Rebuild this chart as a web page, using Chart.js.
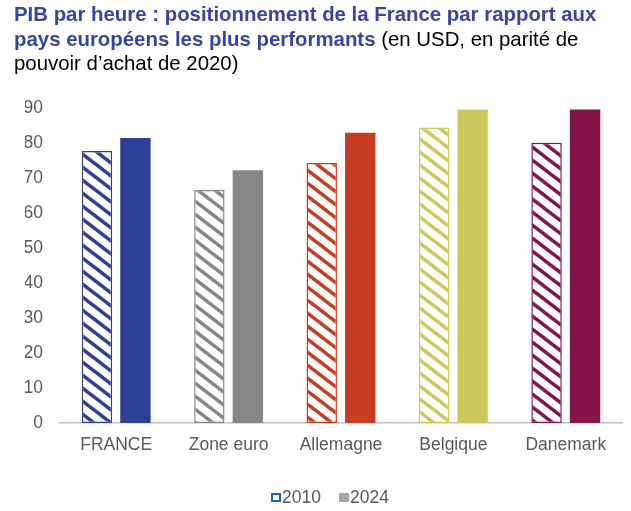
<!DOCTYPE html>
<html>
<head>
<meta charset="utf-8">
<script src="https://cdn.jsdelivr.net/npm/chart.js@4.4.1/dist/chart.umd.min.js"></script>
<style>
  html, body { margin: 0; padding: 0; background: #ffffff; }
  #wrap { position: relative; width: 631px; height: 511px; overflow: hidden; font-family: "Liberation Sans", Arial, sans-serif; }
  #title { position: absolute; left: 14px; top: 2px; font-size: 20.4px; line-height: 24.5px; color: #000; white-space: nowrap; z-index: 2; }
  #title b { color: #3545A3; }
  canvas { position: absolute; left: 0; top: 0; }
  .lg { position: absolute; font-size: 17.5px; line-height: 20px; color: #595959; white-space: nowrap; z-index: 2; }
  .bx { position: absolute; box-sizing: border-box; z-index: 2; }
</style>
</head>
<body>
<div id="wrap">
  <div id="title"><b>PIB par heure : positionnement de la France par rapport aux<br>pays européens les plus performants</b> (en USD, en parité de<br>pouvoir d’achat de 2020)</div>
  <canvas id="c" width="631" height="511"></canvas>
  <div id="legend"></div>
</div>
<script>
const categories = ["FRANCE", "Zone euro", "Allemagne", "Belgique", "Danemark"];
const seriesNames = ["2010", "2024"];
const values2010 = [77.7, 66.6, 74.3, 84.4, 80.1];
const values2024 = [81.4, 72.2, 82.9, 89.6, 89.6];
const yTicks = [0, 10, 20, 30, 40, 50, 60, 70, 80, 90];
const barColors = ["#2E3F96", "#878787", "#C83C24", "#CCC85A", "#841447"];

function hatch(color) {
  const w = 17, h = 13;
  const c = document.createElement('canvas');
  c.width = w; c.height = h;
  const g = c.getContext('2d');
  g.fillStyle = '#ffffff';
  g.fillRect(0, 0, w, h);
  g.strokeStyle = color;
  g.lineWidth = 3.4;
  for (let k = -1; k <= 1; k++) {
    g.beginPath();
    g.moveTo(-w, k * h - h);
    g.lineTo(2 * w, k * h + 2 * h);
    g.stroke();
  }
  return g.createPattern(c, 'repeat');
}

// HTML legend (real text)
const legendEl = document.getElementById('legend');
const legendItems = [
  { text: seriesNames[0], box: 'left:271px;top:493px;width:10px;height:9px;border:2px solid #1466C6;background:#fff;', textLeft: 282 },
  { text: seriesNames[1], box: 'left:339px;top:493px;width:10px;height:9px;background:#A6A6A6;', textLeft: 350 }
];
legendItems.forEach(it => {
  const b = document.createElement('div');
  b.className = 'bx';
  b.style.cssText = it.box;
  legendEl.appendChild(b);
  const t = document.createElement('div');
  t.className = 'lg';
  t.style.left = it.textLeft + 'px';
  t.style.top = '487px';
  t.textContent = it.text;
  legendEl.appendChild(t);
});

const ctx = document.getElementById('c').getContext('2d');
const FONT = "'Liberation Sans', Arial, sans-serif";

new Chart(ctx, {
  type: 'bar',
  data: {
    labels: categories,
    datasets: [
      {
        label: seriesNames[0],
        data: values2010,
        backgroundColor: barColors.map(hatch),
        borderColor: barColors,
        borderWidth: 1.5,
        borderSkipped: false
      },
      {
        label: seriesNames[1],
        data: values2024,
        backgroundColor: barColors,
        borderWidth: 0
      }
    ]
  },
  options: {
    responsive: false,
    animation: false,
    devicePixelRatio: 1,
    layout: { padding: { top: 108, left: 25, right: 9, bottom: 48 } },
    datasets: { bar: { categoryPercentage: 0.685, barPercentage: 0.79 } },
    plugins: {
      title: { display: false },
      tooltip: { enabled: false },
      legend: { display: false }
    },
    scales: {
      x: {
        grid: { display: false, drawTicks: false },
        border: { display: true, color: '#BFBFBF', width: 1.5 },
        ticks: { font: { family: FONT, size: 17.5 }, color: '#595959', padding: 12, maxRotation: 0 },
        afterFit: s => { s.height = 40; }
      },
      y: {
        min: 0,
        max: 90,
        afterBuildTicks: s => { s.ticks = yTicks.map(v => ({ value: v })); },
        grid: { display: false, drawTicks: false },
        border: { display: false },
        ticks: { font: { family: FONT, size: 17.5 }, color: '#595959', padding: 17 },
        afterFit: s => { s.width = 35; }
      }
    }
  }
});
</script>
</body>
</html>
